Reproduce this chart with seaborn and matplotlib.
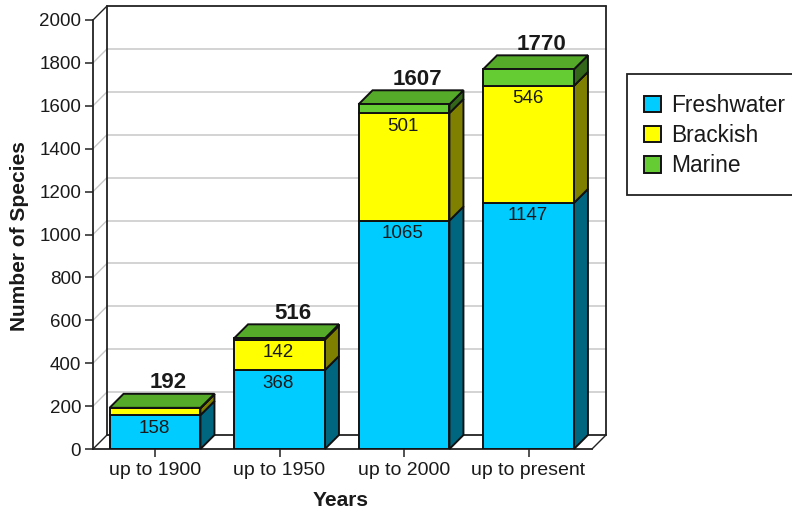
import matplotlib
matplotlib.use("Agg")
import matplotlib.pyplot as plt
from matplotlib.patches import Polygon, Rectangle
from matplotlib.transforms import IdentityTransform
import seaborn as sns

# Cumulative species counts by period
periods = ["up to 1900", "up to 1950", "up to 2000", "up to present"]
freshwater = [158, 368, 1065, 1147]
brackish = [32, 142, 501, 546]
marine = [2, 6, 41, 77]
totals = [192, 516, 1607, 1770]
fresh_labels = ["158", "368", "1065", "1147"]
brackish_labels = ["", "142", "501", "546"]

colors = {"Freshwater": "#00CCFF", "Brackish": "#FFFF00", "Marine": "#66CC33"}
side_colors = {"Freshwater": "#006680", "Brackish": "#808000", "Marine": "#336619"}
top_color = "#55AA2A"
ink = "#1a1a1a"

W, H = 792, 512
DEPTH = 14  # pixels of oblique depth

sns.set_theme(style="white")
plt.rcParams["font.family"] = ["Liberation Sans", "DejaVu Sans"]

fig = plt.figure(figsize=(W / 100, H / 100), dpi=100, facecolor="white")
ax = fig.add_axes([93 / W, 1 - 449 / H, 499 / W, 429 / H])
ax.patch.set_alpha(0)

# Stacked front faces
bottoms = [0, 0, 0, 0]
stacks = []
for name, values in [("Freshwater", freshwater), ("Brackish", brackish), ("Marine", marine)]:
    sns.barplot(x=periods, y=values, bottom=bottoms, color=colors[name], saturation=1,
                width=0.73, edgecolor="#111111", linewidth=1.4, label=name, ax=ax, zorder=4)
    stacks.append((name, list(bottoms), values))
    bottoms = [b + v for b, v in zip(bottoms, values)]

ax.set_xlim(-0.498, 3.51)
ax.set_ylim(0, 2000)
ax.set_yticks(range(0, 2001, 200))
sns.despine(ax=ax)
for side in ("left", "bottom"):
    ax.spines[side].set_linewidth(1.3)
    ax.spines[side].set_color("#222222")
ax.tick_params(axis="both", length=5.5, width=1.1, color="#222222", labelcolor=ink,
               labelsize=13.5, left=True, bottom=True, pad=3)
ax.tick_params(axis="x", labelsize=14, pad=4.2)

to_px = ax.transData.transform
x_left, x_right = ax.get_xlim()


def wall_line(p, q, color, lw, z=1):
    fig.add_artist(plt.Line2D([p[0] / W, q[0] / W], [p[1] / H, q[1] / H], color=color,
                              lw=lw, zorder=z, transform=fig.transFigure))


# Back wall, floor and their gridlines
ax.set_zorder(2)
for v in range(200, 2001, 200):
    fx, fy = to_px((x_left, v))
    grid = "#c8c8c8" if v < 2000 else "#222222"
    if v < 2000:
        wall_line((fx + DEPTH, fy + DEPTH), (to_px((x_right, v))[0] + DEPTH, fy + DEPTH), grid, 1.1)
    wall_line((fx, fy), (fx + DEPTH, fy + DEPTH), grid, 1.0)
x0, y0 = to_px((x_left, 0))
x1, y1 = to_px((x_right, 2000))
wall_line((x0, y0), (x0 + DEPTH, y0 + DEPTH), "#222222", 1.0)
wall_line((x1, y0), (x1 + DEPTH, y0 + DEPTH), "#222222", 1.0)
wall_line((x0 + DEPTH, y0 + DEPTH), (x0 + DEPTH, y1 + DEPTH), "#222222", 1.3)
wall_line((x1 + DEPTH, y0 + DEPTH), (x1 + DEPTH, y1 + DEPTH), "#222222", 1.3)
wall_line((x0 + DEPTH, y1 + DEPTH), (x1 + DEPTH, y1 + DEPTH), "#222222", 1.3)
wall_line((x0 + DEPTH, y0 + DEPTH), (x1 + DEPTH, y0 + DEPTH), "#222222", 1.3)

# Side and top faces of every bar
half = 0.73 / 2
for name, bases, values in stacks:
    for i, (b, v) in enumerate(zip(bases, values)):
        rx, by = to_px((i + half, b))
        _, ty = to_px((i + half, b + v))
        ax.add_patch(Polygon([(rx, by), (rx + DEPTH, by + DEPTH), (rx + DEPTH, ty + DEPTH), (rx, ty)],
                             closed=True, facecolor=side_colors[name], edgecolor="#111111", lw=1.4,
                             transform=IdentityTransform(), clip_on=False, zorder=3))
for i, total in enumerate(totals):
    lx, ty = to_px((i - half, total))
    rx, _ = to_px((i + half, total))
    ax.add_patch(Polygon([(lx, ty), (rx, ty), (rx + DEPTH, ty + DEPTH), (lx + DEPTH, ty + DEPTH)],
                         closed=True, facecolor=top_color, edgecolor="#111111", lw=1.4,
                         transform=IdentityTransform(), clip_on=False, zorder=3))
    ax.annotate(str(total), (i, total), xytext=(DEPTH - 1, DEPTH + 11), textcoords="offset pixels",
                ha="center", va="center", fontsize=16, fontweight="bold", color=ink,
                annotation_clip=False, zorder=6)

# Values printed just below the top of each lower segment
base_tops = [(freshwater, fresh_labels), ([f + b for f, b in zip(freshwater, brackish)], brackish_labels)]
for tops, labels in base_tops:
    for i, (top, text) in enumerate(zip(tops, labels)):
        if text:
            ax.annotate(text, (i, top), xytext=(-1, -13), textcoords="offset pixels", ha="center",
                        va="center", fontsize=13.5, color=ink, zorder=6)

ax.set_xlabel("Years", fontsize=15, fontweight="bold", color=ink)
ax.set_ylabel("Number of Species", fontsize=15, fontweight="bold", color=ink)
ax.xaxis.set_label_coords(0.497, -0.119)
ax.yaxis.set_label_coords(-0.148, 0.4965)
ax.xaxis.label.set_va("center")
ax.yaxis.label.set_va("center")

# Legend box runs past the right edge of the canvas
fig.add_artist(Rectangle((627 / W, 1 - 195 / H), 180 / W, 121 / H, transform=fig.transFigure,
                         facecolor="white", edgecolor="#222222", lw=1.3, zorder=5))
handles, labels = ax.get_legend_handles_labels()
if ax.get_legend() is not None:
    ax.get_legend().remove()
leg = fig.legend(handles, labels, loc="upper left", bbox_to_anchor=(644 / W, 1 - 94 / H),
                 frameon=False, fontsize=16.4, labelcolor=ink, borderpad=0, borderaxespad=0,
                 handlelength=0.75, handleheight=0.75, handletextpad=0.42, labelspacing=0.31)
leg.set_zorder(6)

fig.savefig("out.png", dpi=100, facecolor="white")
